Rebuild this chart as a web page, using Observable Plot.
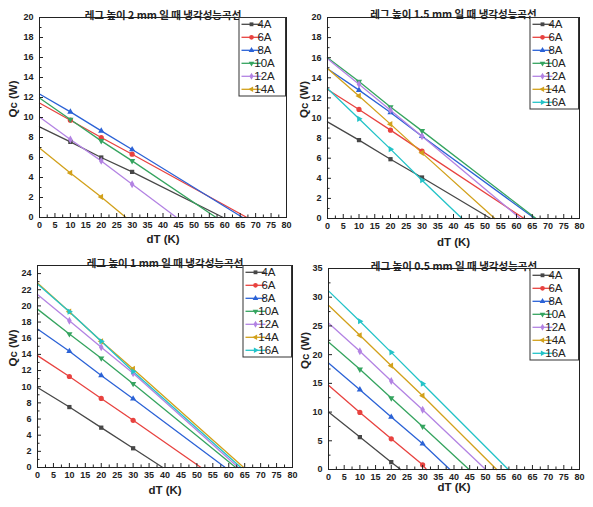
<!DOCTYPE html>
<html><head><meta charset="utf-8">
<script src="https://cdn.jsdelivr.net/npm/d3@7"></script>
<script src="https://cdn.jsdelivr.net/npm/@observablehq/plot@0.6"></script>
<style>
body{margin:0;background:#fff;}
#wrap{position:relative;width:593px;height:507px;overflow:hidden;background:#fff;}
.panel{position:absolute;}
</style></head><body><div id="wrap"></div>
<script>
// ---- data ----
const dTPoints = [0, 10, 20, 30];
const xTicks = [0,5,10,15,20,25,30,35,40,45,50,55,60,65,70,75,80];

const title2mm = "레그 높이 2 mm 일 때 냉각성능곡선";
const names2mm = ["4A","6A","8A","10A","12A","14A"];
const qc2mm = [
  [9.06, 7.56, 6.0, 4.56],
  [11.45, 9.73, 8.0, 6.33],
  [12.35, 10.56, 8.66, 6.8],
  [11.95, 9.8, 7.66, 5.66],
  [10.06, 7.8, 5.66, 3.33],
  [6.95, 4.46, 2.06, null]
];
const zero2mm = [59.5, 67.2, 65.8, 57.2, 44.4, 28.0];

const title15mm = "레그 높이 1.5 mm 일 때 냉각성능곡선";
const names15mm = ["4A","6A","8A","10A","12A","14A","16A"];
const qc15mm = [
  [9.62, 7.8, 5.9, 4.08],
  [12.84, 10.85, 8.79, 6.7],
  [14.9, 12.77, 10.55, 8.19],
  [16.0, 13.63, 11.1, 8.72],
  [15.9, 13.37, 10.78, 8.19],
  [14.92, 12.2, 9.39, 6.53],
  [12.94, 9.92, 6.9, 3.81]
];
const zero15mm = [51.8, 62.4, 65.8, 66.2, 61.2, 53.1, 42.7];

const title1mm = "레그 높이 1 mm 일 때 냉각성능곡선";
const names1mm = ["4A","6A","8A","10A","12A","14A","16A"];
const qc1mm = [
  [9.9, 7.48, 4.93, 2.38],
  [13.85, 11.26, 8.55, 5.84],
  [17.14, 14.39, 11.38, 8.51],
  [19.6, 16.52, 13.52, 10.36],
  [21.4, 18.17, 14.88, 11.67],
  [22.85, 19.28, 15.62, 12.2],
  [22.7, 19.28, 15.62, 11.88]
];
const zero1mm = [39.3, 51.3, 58.9, 62.2, 63.0, 64.7, 63.8];

const title05mm = "레그 높이 0.5 mm 일 때 냉각성능곡선";
const names05mm = ["4A","6A","8A","10A","12A","14A","16A"];
const qc05mm = [
  [10.0, 5.64, 1.28, null],
  [14.65, 9.94, 5.35, 0.81],
  [18.55, 13.9, 9.13, 4.48],
  [22.2, 17.44, 12.44, 7.5],
  [25.52, 20.58, 15.4, 10.4],
  [28.6, 23.37, 18.08, 12.85],
  [31.1, 25.81, 20.4, 14.94]
];
const zero05mm = [23.0, 31.2, 38.7, 44.8, 50.1, 53.6, 57.3];

const seriesColors = ["#474747","#e8423f","#2b62d6","#35a45f","#b383e3","#d2a11b","#23c3c8"];

// ---- symbols ----
const sqrt3 = Math.sqrt(3);
function tri(dir) {
  return {draw(ctx, size) {
    const y = -Math.sqrt(size / (sqrt3 * 3));
    const pts = [[0, y * 2], [-sqrt3 * y, -y], [sqrt3 * y, -y]];
    const tr = ([a, b]) => dir === "down" ? [a, -b] : dir === "left" ? [b, a] : [-b, a];
    const p = pts.map(tr);
    ctx.moveTo(p[0][0], p[0][1]); ctx.lineTo(p[1][0], p[1][1]); ctx.lineTo(p[2][0], p[2][1]); ctx.closePath();
  }};
}
const symbolList = [d3.symbolSquare, d3.symbolCircle, d3.symbolTriangle, tri("down"), d3.symbolDiamond, tri("left"), tri("right")];
const symbolR = [2.4, 2.6, 2.3, 2.3, 2.4, 2.3, 2.3];

const FONT = '"Liberation Sans", Arial, "Noto Sans CJK KR", sans-serif';
const KFONT = '"Noto Sans CJK KR", "Liberation Sans", sans-serif';

function panel(cfg) {
  const {title, names, qc, zeros, yMax, yMajor, yMinor, width, height, ml, mr, mt, mb,
         titleDy, xLabelDy, yLabelDx, left, top, legendW} = cfg;
  const rows = [];
  names.forEach((n, i) => {
    dTPoints.forEach((x, j) => { if (qc[i][j] != null) rows.push({series: n, dT: x, qc: qc[i][j], mk: x > 0}); });
    rows.push({series: n, dT: zeros[i], qc: 0, mk: false});
  });
  const innerW = width - ml - mr, innerH = height - mt - mb;
  const xMinor = d3.range(0, 80.01, 2.5).filter(v => !xTicks.includes(v));
  const dots = names.map((n, i) => Plot.dot(rows.filter(d => d.series === n && d.mk), {
    x: "dT", y: "qc", symbol: symbolList[i], r: symbolR[i], fill: seriesColors[i]
  }));
  const plot = Plot.plot({
    width, height, marginLeft: ml, marginRight: mr, marginTop: mt, marginBottom: mb,
    style: {fontFamily: FONT, fontSize: "9px", color: "#222", background: "transparent", overflow: "visible"},
    x: {domain: [0, 80]},
    y: {domain: [0, yMax]},
    color: {domain: names, range: seriesColors.slice(0, names.length)},
    marks: [
      Plot.line(rows, {x: "dT", y: "qc", z: "series", stroke: "series", strokeWidth: 1.3}),
      ...dots,
      Plot.frame({stroke: "#222", strokeWidth: 1}),
      Plot.tickX(xTicks, {x: d => d, insetTop: innerH - 4, stroke: "#222"}),
      Plot.tickX(xMinor, {x: d => d, insetTop: innerH - 2.5, stroke: "#222"}),
      Plot.tickY(yMajor, {y: d => d, insetRight: innerW - 4, stroke: "#222"}),
      Plot.tickY(yMinor, {y: d => d, insetRight: innerW - 2.5, stroke: "#222"}),
      Plot.axisX(xTicks, {anchor: "bottom", tickSize: 0, tickPadding: 4, fontWeight: "bold", label: null}),
      Plot.axisY(yMajor, {anchor: "left", tickSize: 0, tickPadding: 6, fontWeight: "bold", label: null}),
      Plot.text([title], {text: d => d, frameAnchor: "top", dy: titleDy, fontSize: 10.5, fontWeight: "bold", fontFamily: KFONT}),
      Plot.text(["dT (K)"], {text: d => d, frameAnchor: "bottom", dy: xLabelDy, fontSize: 11.5, fontWeight: "bold"}),
      Plot.text(["Qc (W)"], {text: d => d, frameAnchor: "left", dx: yLabelDx, rotate: -90, fontSize: 11.5, fontWeight: "bold"})
    ]
  });
  // legend inside the frame, top-right
  const svg = d3.select(plot.tagName.toLowerCase() === "svg" ? plot : plot.querySelector("svg"));
  const right = width - mr, rowH = 13;
  const bx = right - legendW, by = mt + 0.5;
  const g = svg.append("g").attr("font-family", FONT).attr("font-size", 11.5);
  g.append("rect").attr("x", bx).attr("y", by).attr("width", legendW - 0.5).attr("height", names.length * rowH + 0.5)
    .attr("fill", "#fff").attr("stroke", "#333").attr("stroke-width", 1);
  names.forEach((n, i) => {
    const cy = by + 6.8 + i * rowH;
    g.append("line").attr("x1", bx + 2.5).attr("x2", bx + 22.5).attr("y1", cy).attr("y2", cy)
      .attr("stroke", seriesColors[i]).attr("stroke-width", 1.3);
    const r = symbolR[i] * 0.9;
    g.append("path").attr("d", d3.symbol(symbolList[i], Math.PI * r * r)()).attr("transform", `translate(${bx + 12.5},${cy})`)
      .attr("fill", seriesColors[i]);
    g.append("text").attr("x", bx + 25.5).attr("y", cy).attr("dy", "0.36em").attr("fill", "#222").text(n);
  });
  plot.style.position = "absolute";
  plot.style.left = left + "px";
  plot.style.top = top + "px";
  document.getElementById("wrap").appendChild(plot);
}

const yMaj20 = [0,2,4,6,8,10,12,14,16,18,20];
const yMin20 = [1,3,5,7,9,11,13,15,17,19];
const yMaj25 = [0,2,4,6,8,10,12,14,16,18,20,22,24];
const yMin25 = [1,3,5,7,9,11,13,15,17,19,21,23,25];
const yMaj35 = [0,5,10,15,20,25,30,35];
const yMin35 = [2.5,7.5,12.5,17.5,22.5,27.5,32.5];

panel({title: title2mm, names: names2mm, qc: qc2mm, zeros: zero2mm, yMax: 20, yMajor: yMaj20, yMinor: yMin20,
  width: 296, height: 250, ml: 39, mr: 10, mt: 17, mb: 33, titleDy: -6, xLabelDy: 25, yLabelDx: -26, left: 0, top: 0, legendW: 47});
panel({title: title15mm, names: names15mm, qc: qc15mm, zeros: zero15mm, yMax: 20, yMajor: yMaj20, yMinor: yMin20,
  width: 297, height: 250, ml: 31, mr: 14, mt: 17, mb: 32, titleDy: -7, xLabelDy: 27, yLabelDx: -23, left: 296, top: 0, legendW: 49});
panel({title: title1mm, names: names1mm, qc: qc1mm, zeros: zero1mm, yMax: 25, yMajor: yMaj25, yMinor: yMin25,
  width: 296, height: 257, ml: 37, mr: 4, mt: 15, mb: 40, titleDy: -6, xLabelDy: 26, yLabelDx: -24, left: 0, top: 250, legendW: 49});
panel({title: title05mm, names: names05mm, qc: qc05mm, zeros: zero05mm, yMax: 35, yMajor: yMaj35, yMinor: yMin35,
  width: 297, height: 257, ml: 32, mr: 14, mt: 18, mb: 38, titleDy: -6, xLabelDy: 21, yLabelDx: -23, left: 296, top: 250, legendW: 49});
</script>
</body></html>
